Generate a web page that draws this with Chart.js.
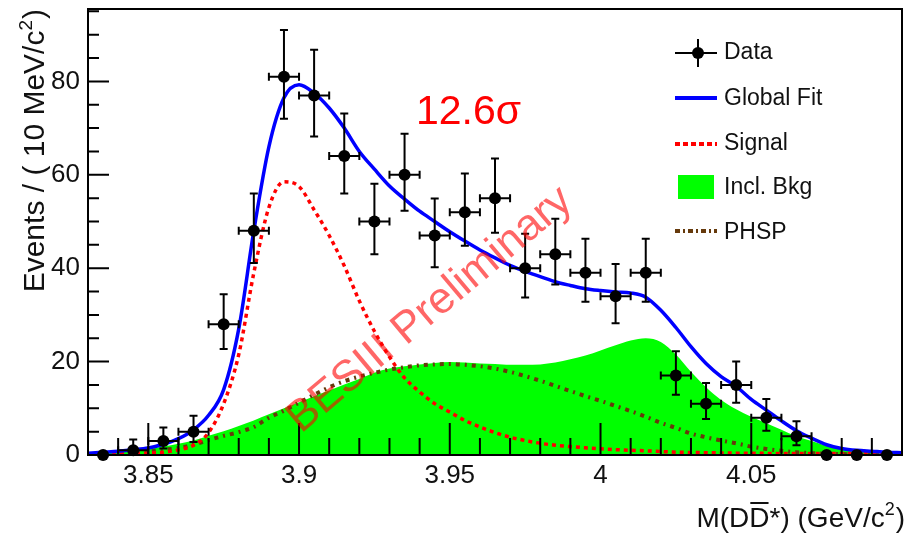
<!DOCTYPE html>
<html>
<head>
<meta charset="utf-8">
<script src="https://cdn.jsdelivr.net/npm/chart.js@4.4.1/dist/chart.umd.min.js"></script>
<style>
  html, body { margin: 0; padding: 0; background: #fff; }
</style>
</head>
<body>
<canvas id="fit-chart" width="908" height="535"></canvas>
<script>
// binned data, 10 MeV bins
const binCenters = [3.835, 3.845, 3.855, 3.865, 3.875, 3.885, 3.895, 3.905, 3.915, 3.925, 3.935, 3.945, 3.955, 3.965,
    3.975, 3.985, 3.995, 4.005, 4.015, 4.025, 4.035, 4.045, 4.055, 4.065, 4.075, 4.085, 4.095];
const dataCounts = [0, 1, 3, 5, 28, 48, 81, 77, 64, 50, 60, 47, 52, 55, 40, 43, 39, 34, 39, 17, 11, 15, 8, 4, 0, 0, 0];
const errLow = [0, 0.8, 1.6, 2.2, 5.3, 6.9, 9.0, 8.8, 8.0, 7.0, 7.7, 6.8, 7.2, 7.4, 6.3, 6.5, 6.2, 5.8, 6.2, 4.1, 3.3, 3.8, 2.8, 1.9, 0, 0, 0];
const errHigh = [0, 2.3, 2.9, 3.4, 6.4, 8.0, 10.0, 9.8, 9.1, 8.1, 8.8, 7.9, 8.3, 8.5, 7.4, 7.6, 7.3, 6.9, 7.3, 5.2, 4.4, 5.0, 4.0, 3.2, 0, 0, 0];
const binHalfWidth = 0.005;

// fit curves, read every 5 MeV
const curveMass = [3.830, 3.835, 3.840, 3.845, 3.850, 3.855, 3.860, 3.865, 3.870, 3.875, 3.880, 3.885, 3.890, 3.895,
    3.900, 3.905, 3.910, 3.915, 3.920, 3.925, 3.930, 3.935, 3.940, 3.945, 3.950, 3.955, 3.960, 3.965, 3.970, 3.975,
    3.980, 3.985, 3.990, 3.995, 4.000, 4.005, 4.010, 4.015, 4.020, 4.025, 4.030, 4.035, 4.040, 4.045, 4.050, 4.055,
    4.060, 4.065, 4.070, 4.075, 4.080, 4.085, 4.090, 4.095, 4.100];
const globalFit = [0.4, 0.6, 0.8, 1.1, 1.5, 2.3, 3.5, 5.4, 8.5, 14, 27, 48, 66, 76.5,
    79.3, 77.5, 74.3, 70, 65, 61.2, 57.6, 54.8, 52.2, 50, 47.8, 45.8, 43.9, 42.2, 40.6, 39.3,
    38.2, 37.1, 36.3, 35.6, 35.2, 34.9, 34.7, 33.8, 31, 27.3, 23.2, 19.6, 16.8, 14.7, 11.9, 9.6,
    7.3, 5.2, 3.6, 2.2, 1.4, 1.0, 0.8, 0.6, 0.5];
const signalCurve = [0.1, 0.1, 0.2, 0.3, 0.4, 0.6, 1.1, 2.1, 4.8, 11, 21.5, 39, 53, 58.5,
    57.5, 52.5, 47, 40.5, 33, 26.5, 21, 16.5, 13.5, 11, 9.2, 7.4, 6.0, 4.8, 3.8, 3.1,
    2.5, 2.1, 1.8, 1.55, 1.35, 1.15, 1.0, 0.9, 0.75, 0.6, 0.55, 0.5, 0.45, 0.4, 0.4, 0.35,
    0.3, 0.3, 0.3, 0.3, 0.3, 0.3, 0.3, 0.3, 0.3];
const inclBkg = [0.1, 0.3, 0.6, 0.9, 1.3, 1.8, 2.4, 3.1, 4.1, 5.1, 6.2, 7.4, 8.7, 10.0,
    11.3, 12.6, 13.8, 15.1, 16.3, 17.6, 18.5, 19.0, 19.4, 19.7, 19.9, 19.8, 19.6, 19.5, 19.3, 19.3,
    19.4, 19.8, 20.5, 21.3, 22.4, 23.5, 24.5, 25.0, 24.2, 21.5, 17.8, 14.5, 11.8, 9.8, 8.2, 6.8,
    5.4, 4.0, 3.0, 2.0, 1.4, 0.9, 0.5, 0.3, 0.1];
const phspCurve = [0, 0.1, 0.2, 0.4, 0.7, 1.1, 1.5, 2.2, 3.2, 4.1, 4.9, 6.0, 8.0, 9.5,
    11.2, 12.9, 14.5, 15.8, 16.8, 17.6, 18.3, 18.8, 19.2, 19.4, 19.5, 19.3, 19.0, 18.5, 17.8, 16.9,
    15.9, 14.8, 13.7, 12.6, 11.6, 10.5, 9.4, 8.2, 6.9, 5.8, 4.6, 3.8, 3.1, 2.5, 1.8, 1.3,
    0.9, 0.6, 0.4, 0.3, 0.2, 0.1, 0.1, 0.05, 0];

const yTickValues = [0, 20, 40, 60, 80];
const xTickValues = [3.85, 3.9, 3.95, 4.0, 4.05];
const xTickLabels = ["3.85", "3.9", "3.95", "4", "4.05"];

const FONT = '"Liberation Sans", Arial, Helvetica, sans-serif';
Chart.defaults.font.family = FONT;
const PHSP_COLOR = '#663a0c';

const toPoints = (xs, ys) => xs.map((m, i) => ({x: m, y: ys[i]}));

// error bars, drawn right after the global fit so they sit above it
const errorBars = {
    id: 'errorBars',
    afterDatasetDraw(chart, args) {
        if (chart.data.datasets[args.index].label !== 'Global Fit') return;
        const {ctx, scales: {x, y}} = chart;
        ctx.save();
        ctx.strokeStyle = '#000';
        ctx.lineWidth = 2;
        const cap = 4;
        binCenters.forEach((m, i) => {
            if (dataCounts[i] <= 0) return;
            const px = x.getPixelForValue(m);
            const py = y.getPixelForValue(dataCounts[i]);
            const xl = x.getPixelForValue(m - binHalfWidth);
            const xr = x.getPixelForValue(m + binHalfWidth);
            const yt = y.getPixelForValue(dataCounts[i] + errHigh[i]);
            const yb = y.getPixelForValue(dataCounts[i] - errLow[i]);
            ctx.beginPath();
            ctx.moveTo(xl, py); ctx.lineTo(xr, py);
            ctx.moveTo(xl, py - cap); ctx.lineTo(xl, py + cap);
            ctx.moveTo(xr, py - cap); ctx.lineTo(xr, py + cap);
            ctx.moveTo(px, yt); ctx.lineTo(px, yb);
            ctx.moveTo(px - cap, yt); ctx.lineTo(px + cap, yt);
            ctx.moveTo(px - cap, yb); ctx.lineTo(px + cap, yb);
            ctx.stroke();
        });
        ctx.restore();
    }
};

// ROOT style frame with inner ticks, titles, legend and labels
const decorations = {
    id: 'decorations',
    afterDatasetsDraw(chart) {
        const {ctx, chartArea: a, scales: {x, y}} = chart;
        ctx.save();
        ctx.strokeStyle = '#000';
        ctx.lineWidth = 2;
        ctx.beginPath();
        for (let v = 0; v <= y.max; v += 5) {
            const py = y.getPixelForValue(v);
            const len = v % 20 === 0 ? 21 : 11;
            ctx.moveTo(a.left, py); ctx.lineTo(a.left + len, py);
        }
        for (let k = 383; k <= 410; k++) {
            const px = x.getPixelForValue(k / 100);
            const len = k % 5 === 0 ? 32 : 17;
            ctx.moveTo(px, a.bottom); ctx.lineTo(px, a.bottom - len);
        }
        ctx.stroke();
        ctx.strokeRect(a.left, a.top, a.right - a.left, a.bottom - a.top);

        // watermark
        ctx.save();
        ctx.translate(430, 310);
        ctx.rotate(-40 * Math.PI / 180);
        ctx.font = '44px ' + FONT;
        ctx.fillStyle = 'rgba(255,0,0,0.6)';
        ctx.textAlign = 'center';
        ctx.textBaseline = 'middle';
        ctx.fillText('BESIII Preliminary', 0, 0);
        ctx.restore();
        ctx.restore();
    },
    afterDraw(chart) {
        const {ctx} = chart;
        ctx.save();
        ctx.fillStyle = '#111';

        // y title, rotated, ending at the top of the axis
        ctx.save();
        ctx.translate(44, 9);
        ctx.rotate(-Math.PI / 2);
        ctx.textBaseline = 'alphabetic';
        const yMain = 'Events / ( 10 MeV/c';
        const yEnd = ')';
        ctx.font = '19px ' + FONT;
        const wSup = ctx.measureText('2').width;
        ctx.font = '30px ' + FONT;
        const wMain = ctx.measureText(yMain).width;
        const wEnd = ctx.measureText(yEnd).width;
        let sx = -(wMain + wSup + wEnd + 1);
        ctx.fillText(yMain, sx, 0);
        sx += wMain;
        ctx.font = '19px ' + FONT;
        ctx.fillText('2', sx, -12);
        sx += wSup + 1;
        ctx.font = '30px ' + FONT;
        ctx.fillText(yEnd, sx, 0);
        ctx.restore();

        // x title, right aligned
        ctx.font = '28px ' + FONT;
        const parts = ['M(D', 'D', '*) (GeV/c', ')'];
        const w = parts.map(p => ctx.measureText(p).width);
        ctx.font = '18px ' + FONT;
        const w2 = ctx.measureText('2').width;
        const base = 527;
        let tx = 905 - (w[0] + w[1] + w[2] + w2 + 1 + w[3]);
        ctx.font = '28px ' + FONT;
        ctx.fillText(parts[0], tx, base); tx += w[0];
        ctx.fillText(parts[1], tx, base);
        ctx.strokeStyle = '#111';
        ctx.lineWidth = 2;
        ctx.beginPath();
        ctx.moveTo(tx + 1, base - 24); ctx.lineTo(tx + w[1] - 1, base - 24);
        ctx.stroke();
        tx += w[1];
        ctx.fillText(parts[2], tx, base); tx += w[2];
        ctx.font = '18px ' + FONT;
        ctx.fillText('2', tx, base - 12); tx += w2 + 1;
        ctx.font = '28px ' + FONT;
        ctx.fillText(parts[3], tx, base);

        // significance
        ctx.fillStyle = '#ff0000';
        ctx.font = '41px ' + FONT;
        ctx.fillText('12.6σ', 416, 124);

        // legend
        const lx0 = 675, lx1 = 717, tx0 = 724;
        ctx.font = '23px ' + FONT;
        ctx.textBaseline = 'middle';
        ctx.fillStyle = '#111';
        ctx.fillText('Data', tx0, 53);
        ctx.fillText('Global Fit', tx0, 99);
        ctx.fillText('Signal', tx0, 144);
        ctx.fillText('Incl. Bkg', tx0, 188);
        ctx.fillText('PHSP', tx0, 233);

        ctx.strokeStyle = '#000';
        ctx.lineWidth = 2;
        ctx.beginPath();
        ctx.moveTo(lx0, 53); ctx.lineTo(lx1, 53);
        ctx.moveTo(698, 39); ctx.lineTo(698, 67);
        ctx.stroke();
        ctx.fillStyle = '#000';
        ctx.beginPath();
        ctx.arc(698, 53, 6, 0, Math.PI * 2);
        ctx.fill();

        ctx.lineWidth = 4;
        ctx.strokeStyle = '#0000ff';
        ctx.beginPath(); ctx.moveTo(lx0, 98); ctx.lineTo(lx1, 98); ctx.stroke();
        ctx.strokeStyle = '#ff0000';
        ctx.setLineDash([5, 3]);
        ctx.beginPath(); ctx.moveTo(lx0, 144); ctx.lineTo(lx1, 144); ctx.stroke();
        ctx.strokeStyle = PHSP_COLOR;
        ctx.setLineDash([5, 3, 2, 3]);
        ctx.beginPath(); ctx.moveTo(lx0, 231); ctx.lineTo(lx1, 231); ctx.stroke();
        ctx.setLineDash([]);
        ctx.fillStyle = '#00ff00';
        ctx.fillRect(678, 175, 36, 24);
        ctx.restore();
    }
};

new Chart(document.getElementById('fit-chart'), {
    type: 'line',
    data: {
        datasets: [
            {
                label: 'Data',
                data: toPoints(binCenters, dataCounts),
                showLine: false,
                pointRadius: 6,
                pointBackgroundColor: '#000',
                pointBorderColor: '#000',
                pointBorderWidth: 0,
                clip: false,
                order: 0
            },
            {
                label: 'Global Fit',
                data: toPoints(curveMass, globalFit),
                borderColor: '#0000ff',
                borderWidth: 3.5,
                pointRadius: 0,
                cubicInterpolationMode: 'monotone',
                order: 1
            },
            {
                label: 'Signal',
                data: toPoints(curveMass, signalCurve),
                borderColor: '#ff0000',
                borderWidth: 3.5,
                borderDash: [4, 4],
                pointRadius: 0,
                cubicInterpolationMode: 'monotone',
                order: 2
            },
            {
                label: 'PHSP',
                data: toPoints(curveMass, phspCurve),
                borderColor: PHSP_COLOR,
                borderWidth: 4,
                borderDash: [4, 5, 2, 5],
                pointRadius: 0,
                cubicInterpolationMode: 'monotone',
                order: 3
            },
            {
                label: 'Incl. Bkg',
                data: toPoints(curveMass, inclBkg),
                borderWidth: 0,
                borderColor: 'rgba(0,0,0,0)',
                backgroundColor: '#00ff00',
                fill: 'origin',
                pointRadius: 0,
                cubicInterpolationMode: 'monotone',
                order: 4
            }
        ]
    },
    options: {
        responsive: false,
        animation: false,
        layout: {padding: {left: 0, top: 9, right: 2, bottom: 0}},
        plugins: {legend: {display: false}, tooltip: {enabled: false}},
        scales: {
            x: {
                type: 'linear',
                min: 3.83,
                max: 4.1,
                grid: {display: false, drawTicks: false},
                border: {display: false},
                afterBuildTicks: (scale) => { scale.ticks = xTickValues.map(v => ({value: v})); },
                afterFit: (scale) => { scale.height = 80; scale.paddingLeft = 0; scale.paddingRight = 0; },
                ticks: {
                    padding: 5,
                    maxRotation: 0,
                    autoSkip: false,
                    color: '#111',
                    font: {size: 26},
                    callback: (v) => xTickLabels[xTickValues.indexOf(v)]
                }
            },
            y: {
                min: 0,
                max: 95.5,
                grid: {display: false, drawTicks: false},
                border: {display: false},
                afterBuildTicks: (scale) => { scale.ticks = yTickValues.map(v => ({value: v})); },
                afterFit: (scale) => { scale.width = 88; scale.paddingTop = 0; scale.paddingBottom = 0; },
                ticks: {
                    padding: 8,
                    color: '#111',
                    font: {size: 26}
                }
            }
        }
    },
    plugins: [errorBars, decorations]
});
</script>
</body>
</html>
